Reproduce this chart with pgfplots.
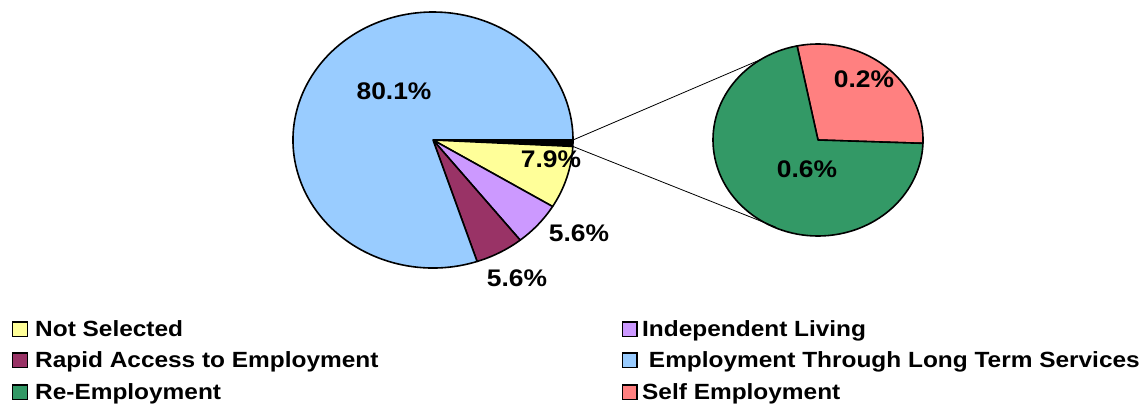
\documentclass[border=0pt]{standalone}
\usepackage{graphicx}
\usepackage{fontspec}
\setmainfont{Liberation Sans}
\usepackage{pgfplots}
\usepackage{pgfplotstable}
\pgfplotsset{compat=1.18}

\definecolor{cNS}{HTML}{FFFF99}
\definecolor{cIL}{HTML}{CC99FF}
\definecolor{cRA}{HTML}{993366}
\definecolor{cLT}{HTML}{99CCFF}
\definecolor{cRE}{HTML}{339966}
\definecolor{cSE}{HTML}{FF8080}

% main pie, clockwise from 3 o'clock; first row is the "other" slice
\pgfplotstableread{
share fillc
0.8  black
7.9  cNS
5.6  cIL
5.6  cRA
80.1 cLT
}\mainpie
% secondary pie (breakdown of the 0.8 slice)
\pgfplotstableread{
share fillc
0.23 cSE
0.57 cRE
}\subpie

\newcommand\lbl[1]{\scalebox{1.1}[1]{#1}}
\newcommand\leg[1]{\scalebox{1.11}[1]{#1}}

\begin{document}
\begin{tikzpicture}
\useasboundingbox (0,0) rectangle (1148bp,406bp);
\begin{axis}[
  hide axis, scale only axis, clip=false,
  width=1148bp, height=406bp,
  xmin=0, xmax=1148, ymin=0, ymax=406,
  enlargelimits=false,
]
% main pie
\xdef\cum{0}
\foreach \i in {0,...,4}{
  \pgfplotstablegetelem{\i}{share}\of\mainpie \let\v\pgfplotsretval
  \pgfplotstablegetelem{\i}{fillc}\of\mainpie \let\slc\pgfplotsretval
  \pgfmathsetmacro\sa{-\cum*3.6}
  \pgfmathsetmacro\da{-\v*3.6}
  \pgfmathsetmacro\px{433+140*cos(\sa)}
  \pgfmathsetmacro\py{266+128*sin(\sa)}
  \edef\tmp{\noexpand\filldraw[fill=\slc, draw=black, line width=1.6bp, line join=round]
    (axis cs:433,266) -- (axis cs:\px,\py)
    arc[start angle=\sa, delta angle=\da, x radius=140bp, y radius=128bp] -- cycle;}
  \tmp
  \pgfmathsetmacro\nc{\cum+\v}
  \xdef\cum{\nc}
}
% secondary pie
\xdef\cum{0}
\foreach \i in {0,1}{
  \pgfplotstablegetelem{\i}{share}\of\subpie \let\v\pgfplotsretval
  \pgfplotstablegetelem{\i}{fillc}\of\subpie \let\slc\pgfplotsretval
  \pgfmathsetmacro\sa{-2+\cum*450}
  \pgfmathsetmacro\da{\v*450}
  \pgfmathsetmacro\px{818+105*cos(\sa)}
  \pgfmathsetmacro\py{266+96*sin(\sa)}
  \edef\tmp{\noexpand\filldraw[fill=\slc, draw=black, line width=1.6bp, line join=round]
    (axis cs:818,266) -- (axis cs:\px,\py)
    arc[start angle=\sa, delta angle=\da, x radius=105bp, y radius=96bp] -- cycle;}
  \tmp
  \pgfmathsetmacro\nc{\cum+\v}
  \xdef\cum{\nc}
}
% connector lines
\draw[line width=0.8bp] (axis cs:573,266) -- (axis cs:760.8,346.5);
\draw[line width=0.8bp] (axis cs:572.8,259.6) -- (axis cs:775.6,179);

% data labels
\begin{scope}[every node/.style={anchor=base, inner sep=0pt, font=\fontsize{24bp}{28bp}\selectfont\bfseries}]
\node at (axis cs:394,306) {\lbl{80.1\%}};
\node at (axis cs:551,238) {\lbl{7.9\%}};
\node at (axis cs:579,164) {\lbl{5.6\%}};
\node at (axis cs:517,119) {\lbl{5.6\%}};
\node at (axis cs:864,318) {\lbl{0.2\%}};
\node at (axis cs:807,228) {\lbl{0.6\%}};
\end{scope}

% legend
\begin{scope}[every node/.style={anchor=base west, inner sep=0pt, font=\fontsize{22bp}{26bp}\selectfont\bfseries}]
\filldraw[fill=cNS, line width=1.5bp] (axis cs:12.5,69.5) rectangle (axis cs:27.5,84);
\node at (axis cs:35,69) {\leg{Not Selected}};
\filldraw[fill=cRA, line width=1.5bp] (axis cs:12.5,38.5) rectangle (axis cs:27.5,53);
\node at (axis cs:35,38) {\leg{Rapid Access to Employment}};
\filldraw[fill=cRE, line width=1.5bp] (axis cs:12.5,6.5) rectangle (axis cs:27.5,21);
\node at (axis cs:35,6) {\leg{Re-Employment}};
\filldraw[fill=cIL, line width=1.5bp] (axis cs:622.5,69.5) rectangle (axis cs:637,84);
\node at (axis cs:642,69) {\leg{Independent Living}};
\filldraw[fill=cLT, line width=1.5bp] (axis cs:622.5,38.5) rectangle (axis cs:637,53);
\node at (axis cs:642,38) {\leg{\ Employment Through Long Term Services}};
\filldraw[fill=cSE, line width=1.5bp] (axis cs:622.5,6.5) rectangle (axis cs:637,21);
\node at (axis cs:642,6) {\leg{Self Employment}};
\end{scope}
\end{axis}
\end{tikzpicture}
\end{document}
